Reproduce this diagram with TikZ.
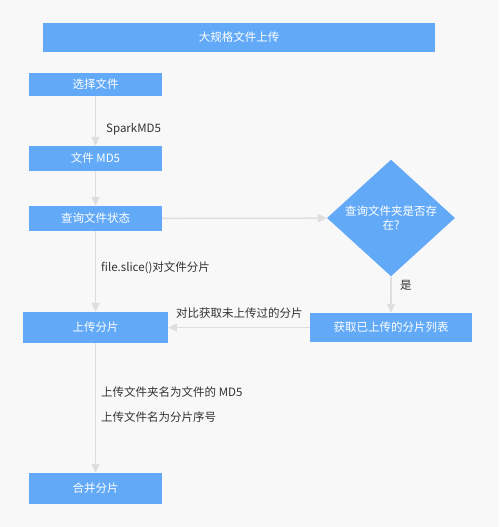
\documentclass[tikz,border=0pt]{standalone}
\usepackage{fontspec}
\newfontfamily\cjk{Noto Sans CJK SC}
\usetikzlibrary{shapes.geometric,arrows.meta}
\definecolor{boxblue}{RGB}{98,170,248}
\definecolor{linegray}{RGB}{222,222,222}
\definecolor{bggray}{RGB}{248,248,248}
\definecolor{labelgray}{RGB}{51,51,51}
\tikzset{
  box/.style={fill=boxblue, text=white, inner sep=0pt, font=\cjk\fontsize{11.5}{14}\selectfont},
  ask/.style={box, shape=diamond, minimum width=128pt, minimum height=90pt, align=center},
  flow/.style={draw=linegray, line width=1.3pt, -{Triangle[width=8pt,length=9pt]}},
  lbl/.style={text=labelgray, anchor=west, inner sep=0pt, font=\cjk\fontsize{11.5}{13}\selectfont}
}
\begin{document}
\begin{tikzpicture}[x=1pt,y=-1pt]
  \fill[bggray] (0,0) rectangle (499,527);
  % boxes
  \node[box, minimum width=392pt, minimum height=29pt] (title) at (239,37.5) {大规格文件上传};
  \node[box, minimum width=133pt, minimum height=23pt] (pick) at (95.5,84.5) {选择文件};
  \node[box, minimum width=133pt, minimum height=25pt] (md5) at (95.5,158.5) {文件 MD5};
  \node[box, minimum width=133pt, minimum height=25pt] (state) at (95.5,218.5) {查询文件状态};
  \node[ask] (exists) at (391,218) {查询文件夹是否存\\在?};
  \node[box, minimum width=162pt, minimum height=29pt] (list) at (391,327.5) {获取已上传的分片列表};
  \node[box, minimum width=145pt, minimum height=31pt] (upload) at (95.5,327.5) {上传分片};
  \node[box, minimum width=133pt, minimum height=31pt] (merge) at (95.5,488.5) {合并分片};
  % connectors
  \draw[flow] (pick) -- (md5);
  \draw[flow] (md5) -- (state);
  \draw[flow] (state) -- (exists);
  \draw[flow] (exists) -- (list);
  \draw[flow] (list) -- (upload);
  \draw[flow] (state) -- (upload);
  \draw[flow] (upload) -- (merge);
  % labels
  \node[lbl] (spark) at (106,129) {SparkMD5};
  \node[lbl] (slice) at (101,268) {file.slice()对文件分片};
  \node[lbl] (yes) at (400,285) {是};
  \node[lbl] (diff) at (176,313) {对比获取未上传过的分片};
  \node[lbl] (dir) at (101,392) {上传文件夹名为文件的 MD5};
  \node[lbl] (name) at (101,417) {上传文件名为分片序号};
\end{tikzpicture}
\end{document}
